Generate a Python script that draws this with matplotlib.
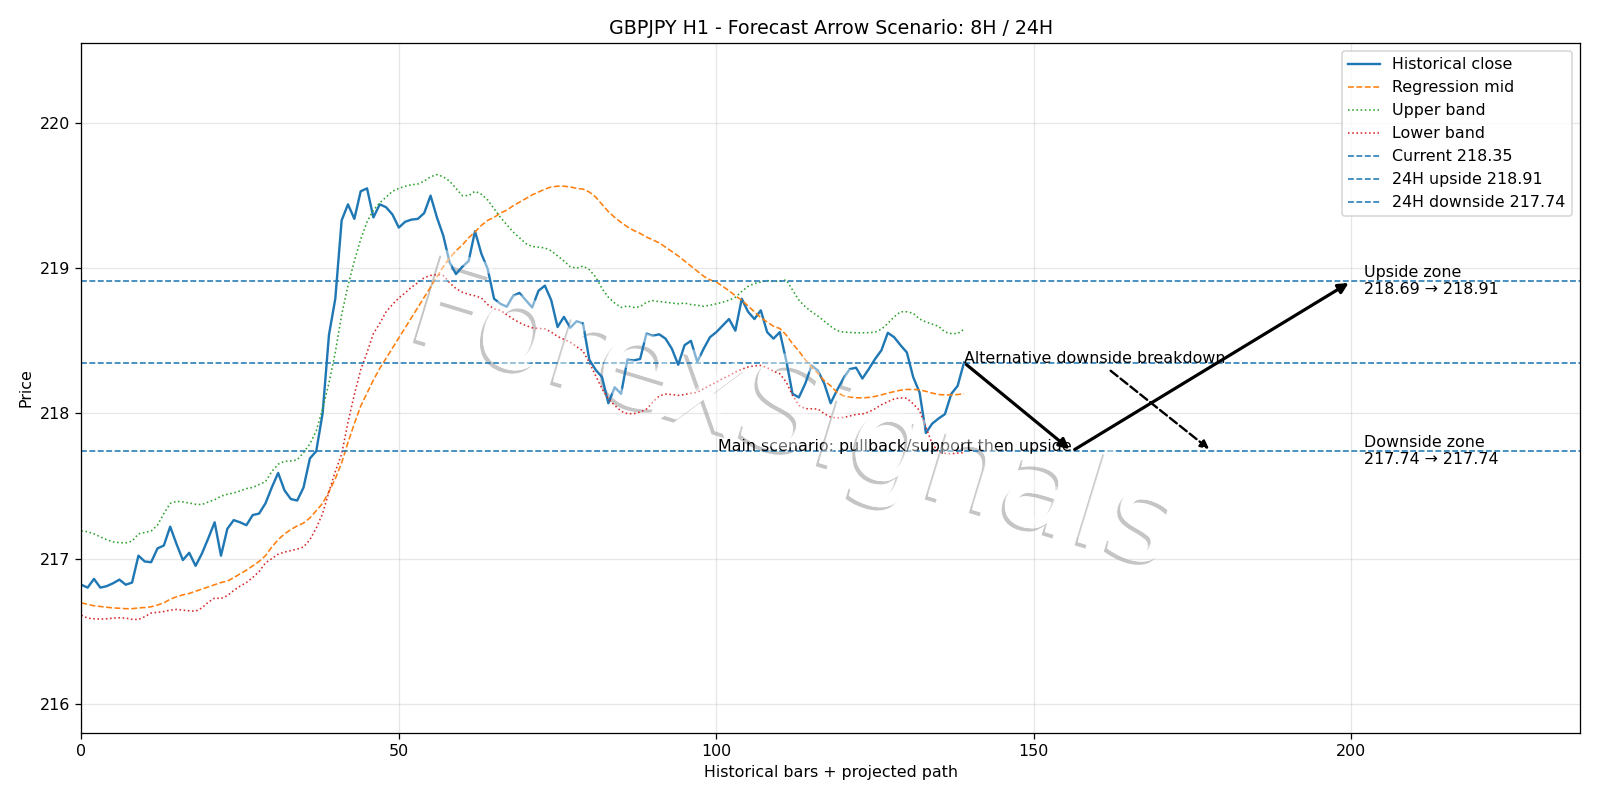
import matplotlib
matplotlib.use("Agg")
import matplotlib.pyplot as plt
import matplotlib.patheffects as pe
import numpy as np

# GBPJPY H1 closes (140 bars)
close = [216.82, 216.80, 216.86, 216.80, 216.81, 216.83, 216.855, 216.82, 216.835, 217.02,
         216.98, 216.975, 217.07, 217.09, 217.22, 217.10, 216.99, 217.04, 216.95, 217.035,
         217.14, 217.25, 217.02, 217.205, 217.265, 217.25, 217.23, 217.30, 217.31, 217.38,
         217.49, 217.59, 217.47, 217.41, 217.40, 217.49, 217.69, 217.74, 218.00, 218.54,
         218.79, 219.33, 219.44, 219.34, 219.53, 219.55, 219.35, 219.44, 219.42, 219.37,
         219.28, 219.32, 219.335, 219.34, 219.38, 219.50, 219.35, 219.225, 219.04, 218.96,
         219.01, 219.05, 219.255, 219.10, 218.995, 218.79, 218.755, 218.735, 218.81, 218.83,
         218.78, 218.73, 218.845, 218.88, 218.78, 218.595, 218.665, 218.59, 218.635, 218.62,
         218.37, 218.30, 218.25, 218.07, 218.18, 218.135, 218.37, 218.365, 218.375, 218.55,
         218.535, 218.545, 218.515, 218.445, 218.335, 218.47, 218.50, 218.355, 218.445, 218.525,
         218.56, 218.605, 218.65, 218.57, 218.79, 218.70, 218.65, 218.71, 218.56, 218.515,
         218.56, 218.365, 218.135, 218.11, 218.205, 218.33, 218.295, 218.205, 218.07, 218.16,
         218.24, 218.305, 218.315, 218.24, 218.305, 218.375, 218.435, 218.555, 218.525, 218.47,
         218.42, 218.25, 218.145, 217.865, 217.93, 217.965, 217.995, 218.135, 218.19, 218.35]

mid = [216.695, 216.685, 216.675, 216.67, 216.665, 216.66, 216.658, 216.655, 216.655, 216.66,
       216.663, 216.668, 216.68, 216.695, 216.72, 216.737, 216.75, 216.76, 216.775, 216.79,
       216.805, 216.82, 216.835, 216.845, 216.868, 216.895, 216.92, 216.95, 216.98, 217.02,
       217.08, 217.13, 217.17, 217.20, 217.225, 217.245, 217.28, 217.33, 217.38, 217.46,
       217.55, 217.66, 217.80, 217.93, 218.05, 218.14, 218.23, 218.31, 218.38, 218.45,
       218.52, 218.59, 218.66, 218.73, 218.80, 218.87, 218.94, 219.01, 219.07, 219.12,
       219.16, 219.21, 219.25, 219.295, 219.33, 219.35, 219.38, 219.40, 219.43, 219.455,
       219.48, 219.505, 219.525, 219.545, 219.56, 219.565, 219.565, 219.56, 219.55, 219.545,
       219.525, 219.49, 219.44, 219.39, 219.35, 219.315, 219.285, 219.26, 219.24, 219.215,
       219.195, 219.175, 219.145, 219.115, 219.085, 219.05, 219.015, 218.98, 218.945, 218.92,
       218.905, 218.875, 218.845, 218.81, 218.78, 218.74, 218.70, 218.66, 218.63, 218.60,
       218.585, 218.54, 218.48, 218.43, 218.37, 218.32, 218.275, 218.225, 218.19, 218.145,
       218.12, 218.112, 218.108, 218.107, 218.11, 218.117, 218.128, 218.14, 218.15, 218.16,
       218.165, 218.165, 218.162, 218.152, 218.14, 218.13, 218.128, 218.128, 218.13, 218.135]

upper = [217.19, 217.185, 217.17, 217.15, 217.13, 217.115, 217.11, 217.108, 217.12, 217.17,
         217.18, 217.19, 217.23, 217.31, 217.38, 217.395, 217.39, 217.383, 217.374, 217.372,
         217.39, 217.405, 217.43, 217.443, 217.452, 217.466, 217.482, 217.49, 217.51, 217.53,
         217.60, 217.65, 217.67, 217.672, 217.68, 217.73, 217.79, 217.88, 218.03, 218.21,
         218.42, 218.68, 218.88, 219.05, 219.20, 219.32, 219.40, 219.45, 219.49, 219.53,
         219.55, 219.565, 219.575, 219.58, 219.60, 219.63, 219.645, 219.63, 219.60, 219.55,
         219.50, 219.50, 219.53, 219.51, 219.47, 219.41, 219.35, 219.30, 219.25, 219.21,
         219.17, 219.15, 219.145, 219.14, 219.12, 219.085, 219.05, 219.01, 219.00, 219.015,
         218.99, 218.94, 218.86, 218.80, 218.76, 218.73, 218.74, 218.73, 218.735, 218.766,
         218.777, 218.77, 218.766, 218.76, 218.755, 218.76, 218.75, 218.745, 218.738, 218.745,
         218.755, 218.766, 218.78, 218.80, 218.84, 218.875, 218.895, 218.905, 218.915, 218.91,
         218.91, 218.92, 218.85, 218.78, 218.735, 218.70, 218.67, 218.635, 218.60, 218.57,
         218.56, 218.558, 218.555, 218.555, 218.556, 218.56, 218.58, 218.62, 218.665, 218.70,
         218.70, 218.69, 218.65, 218.63, 218.615, 218.60, 218.56, 218.55, 218.55, 218.58]

lower = [216.61, 216.59, 216.585, 216.583, 216.585, 216.59, 216.592, 216.59, 216.582, 216.58,
         216.60, 216.625, 216.63, 216.635, 216.645, 216.65, 216.645, 216.64, 216.638, 216.66,
         216.70, 216.728, 216.725, 216.745, 216.78, 216.81, 216.835, 216.87, 216.91, 216.97,
         217.00, 217.03, 217.045, 217.055, 217.065, 217.08, 217.13, 217.21, 217.31, 217.46,
         217.60, 217.72, 217.94, 218.13, 218.30, 218.42, 218.55, 218.62, 218.70, 218.75,
         218.795, 218.83, 218.87, 218.90, 218.935, 218.95, 218.956, 218.95, 218.90, 218.86,
         218.835, 218.82, 218.81, 218.795, 218.75, 218.72, 218.71, 218.68, 218.65, 218.625,
         218.605, 218.59, 218.585, 218.583, 218.56, 218.53, 218.51, 218.49, 218.46, 218.43,
         218.35, 218.26, 218.17, 218.10, 218.055, 218.015, 217.998, 217.998, 218.01, 218.03,
         218.078, 218.12, 218.133, 218.13, 218.124, 218.13, 218.138, 218.145, 218.17, 218.193,
         218.215, 218.24, 218.26, 218.285, 218.305, 218.32, 218.328, 218.33, 218.315, 218.29,
         218.273, 218.216, 218.124, 218.055, 218.032, 218.032, 218.03, 217.998, 217.975, 217.968,
         217.972, 217.982, 217.993, 217.996, 218.01, 218.032, 218.06, 218.08, 218.10, 218.107,
         218.105, 218.066, 218.02, 217.906, 217.79, 217.734, 217.725, 217.722, 217.727, 217.73]

current = 218.35
upside = 218.91
downside = 217.74
upside_zone = (218.69, 218.91)
downside_zone = (217.74, 217.74)
pullback_bar = 156
target_bar = 200
alt_bar = 178

x = np.arange(len(close))
last = x[-1]

fig, ax = plt.subplots(figsize=(14, 7), dpi=1600 / 14)
fig.subplots_adjust(left=0.0508, right=0.9875, top=0.946, bottom=0.084)

ax.plot(x, close, lw=1.5, label="Historical close")
ax.plot(x, mid, "--", lw=1.0, label="Regression mid")
ax.plot(x, upper, ":", lw=1.0, label="Upper band")
ax.plot(x, lower, ":", lw=1.0, label="Lower band")
ax.axhline(current, ls="--", lw=1.0, color="tab:blue", label=f"Current {current:.2f}")
ax.axhline(upside, ls="--", lw=1.0, color="tab:blue", label=f"24H upside {upside:.2f}")
ax.axhline(downside, ls="--", lw=1.0, color="tab:blue", label=f"24H downside {downside:.2f}")

# main path: pullback then upside
ax.annotate("", xy=(pullback_bar, downside), xytext=(last, current),
            arrowprops=dict(arrowstyle="-|>", lw=2, color="black", mutation_scale=13))
ax.annotate("", xy=(target_bar, upside), xytext=(pullback_bar, downside),
            arrowprops=dict(arrowstyle="-|>", lw=2, color="black", mutation_scale=13))
ax.text(pullback_bar, downside, "Main scenario: pullback/support then upside", ha="right", fontsize=10)

# alternative
ax.annotate("Alternative downside breakdown", xy=(alt_bar, downside), xytext=(last, current),
            fontsize=10,
            arrowprops=dict(arrowstyle="-|>", lw=1.5, ls="--", color="black", mutation_scale=11))

ax.text(target_bar + 2, upside, f"Upside zone\n{upside_zone[0]:.2f} → {upside_zone[1]:.2f}",
        va="center", fontsize=10)
ax.text(target_bar + 2, downside, f"Downside zone\n{downside_zone[0]:.2f} → {downside_zone[1]:.2f}",
        va="center", fontsize=10)

# watermark: shadowed white text under the lines, light veil on top
wm = dict(transform=ax.transAxes, fontsize=79, rotation=-17, ha="center", va="center")
ax.text(0.475, 0.455, "ForexSignals", color="white", zorder=1.5,
        path_effects=[pe.withSimplePatchShadow(offset=(-2, -2), shadow_rgbFace="0.55", alpha=0.5),
                      pe.Normal()], **wm)
ax.text(0.475, 0.455, "ForexSignals", color="white", alpha=0.45, zorder=10, **wm)

ax.set_xlim(0, 236)
ax.set_ylim(215.8, 220.55)
ax.set_title("GBPJPY H1 - Forecast Arrow Scenario: 8H / 24H")
ax.set_xlabel("Historical bars + projected path")
ax.set_ylabel("Price")
ax.grid(True, alpha=0.3)
ax.legend(loc="upper right")

plt.savefig("out.png", dpi=1600 / 14)
